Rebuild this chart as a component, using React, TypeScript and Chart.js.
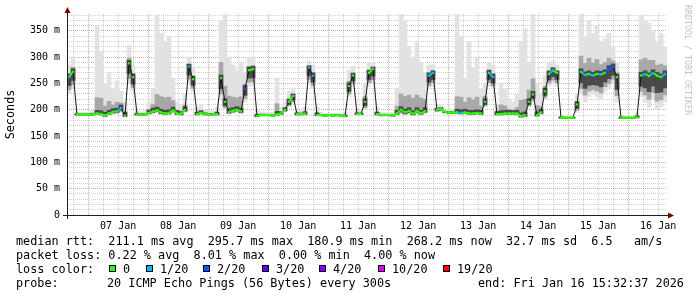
import React, { useEffect, useRef } from 'react';
import { Chart, registerables } from 'chart.js';

Chart.register(...registerables);

const MONO = '"DejaVu Sans Mono", monospace';

// hours from graph start (Fri Jan 6 15:32:37) to Jan 7 00:00
const HOURS_TO_FIRST_MIDNIGHT = 8.4564;
const TOTAL_HOURS = 240;
const STEP_HOURS = 1.6;
const Y_MAX = 382;

const dayLabels = ['07 Jan', '08 Jan', '09 Jan', '10 Jan', '11 Jan', '12 Jan', '13 Jan', '14 Jan', '15 Jan', '16 Jan'];
const yTickLabels = ['0', '50 m', '100 m', '150 m', '200 m', '250 m', '300 m', '350 m'];

// median rtt (ms), one value per 1.6 h
const medianRtt = [
  262, 272, 191, 191, 191, 191, 191, 193, 192, 189,
  193, 196, 197, 203, 189, 288, 262, 191, 191, 191,
  194, 197, 199, 195, 193, 194, 199, 193, 192, 200,
  282, 258, 192, 194, 192, 191, 191, 192, 260, 215,
  196, 198, 200, 197, 240, 275, 277, 188, 190, 190,
  190, 189, 191, 193, 200, 215, 226, 192, 192, 193,
  280, 265, 190, 190, 189, 190, 189, 190, 189, 188,
  245, 265, 192, 192, 215, 270, 278, 192, 190, 190,
  190, 189, 193, 200, 195, 198, 192, 198, 193, 198,
  265, 270, 200, 202, 196, 195, 195, 195, 194, 195,
  193, 193, 194, 193, 215, 270, 262, 192, 192, 193,
  193, 193, 193, 188, 190, 215, 229, 190, 195, 235,
  268, 275, 270, 185, 185, 185, 185, 210, 272, 266,
  268, 265, 268, 267, 270, 278, 281, 262, 185, 185,
  185, 185, 186, 265, 268, 264, 270, 265, 262, 268,
];

// top of the smoke (slowest ping)
const smokeHigh = [
  285, 300, 196, 195, 195, 196, 200, 360, 310, 250,
  270, 240, 255, 235, 215, 322, 285, 200, 196, 198,
  215, 240, 380, 345, 330, 340, 260, 215, 210, 230,
  300, 280, 205, 210, 200, 198, 198, 205, 370, 381,
  300, 285, 275, 290, 270, 300, 300, 200, 196, 196,
  195, 195, 260, 205, 215, 235, 241, 200, 198, 205,
  293, 285, 205, 195, 193, 193, 193, 193, 193, 195,
  275, 283, 200, 198, 250, 290, 290, 205, 195, 195,
  195, 195, 240, 381, 370, 320, 300, 330, 290, 270,
  285, 285, 210, 210, 200, 200, 200, 381, 340, 260,
  330, 280, 300, 240, 250, 290, 285, 210, 250, 240,
  220, 215, 230, 330, 355, 290, 381, 250, 230, 265,
  290, 293, 285, 190, 188, 188, 188, 230, 381, 340,
  370, 345, 360, 330, 335, 345, 320, 290, 190, 188,
  188, 188, 195, 380, 370, 365, 350, 330, 345, 320,
];

// bottom of the smoke (fastest ping)
const smokeLow = [
  230, 240, 189, 189, 189, 189, 189, 190, 189, 186,
  190, 192, 193, 195, 186, 250, 235, 189, 189, 189,
  191, 193, 195, 191, 190, 191, 194, 190, 189, 195,
  250, 235, 189, 191, 189, 189, 189, 189, 220, 200,
  192, 194, 196, 193, 215, 245, 245, 186, 188, 188,
  188, 187, 189, 190, 196, 205, 212, 189, 189, 190,
  250, 240, 188, 188, 187, 188, 187, 188, 187, 186,
  225, 245, 190, 190, 200, 245, 250, 189, 188, 188,
  188, 187, 190, 192, 190, 192, 189, 192, 190, 193,
  240, 245, 196, 197, 193, 192, 192, 192, 191, 192,
  190, 190, 191, 190, 205, 245, 240, 189, 189, 190,
  190, 190, 190, 185, 186, 205, 215, 187, 191, 220,
  245, 250, 245, 183, 183, 183, 183, 195, 230, 215,
  225, 230, 225, 220, 235, 240, 250, 215, 183, 183,
  183, 183, 184, 225, 215, 205, 220, 200, 205, 215,
];

// lost pings out of 20
const lostPings = [
  1, 0, 0, 0, 0, 0, 0, 0, 0, 0,
  0, 0, 0, 1, 0, 0, 0, 0, 0, 0,
  0, 0, 0, 0, 0, 0, 0, 0, 0, 0,
  1, 0, 0, 0, 0, 0, 0, 0, 0, 0,
  0, 0, 0, 0, 2, 0, 0, 0, 0, 0,
  0, 0, 0, 0, 0, 0, 0, 0, 0, 0,
  1, 1, 0, 0, 0, 0, 0, 0, 0, 0,
  0, 0, 0, 0, 0, 0, 0, 0, 0, 0,
  0, 0, 0, 0, 0, 0, 0, 0, 0, 0,
  1, 1, 0, 0, 0, 0, 0, 0, 1, 0,
  0, 0, 0, 0, 0, 0, 1, 0, 0, 0,
  0, 0, 0, 0, 0, 0, 0, 0, 0, 0,
  0, 1, 0, 0, 0, 0, 0, 0, 0, 1,
  0, 1, 0, 1, 0, 2, 2, 0, 0, 0,
  0, 0, 0, 0, 1, 0, 1, 0, 0, 1,
];

const lossThresholds = [0, 1, 2, 3, 4, 10, 19];
const lossLabels = ['0', '1/20', '2/20', '3/20', '4/20', '10/20', '19/20'];
const lossColors = ['#26ff00', '#00b8ff', '#0059ff', '#5e00ff', '#7e00ff', '#dd00ff', '#ff0000'];

const statLines = [
  'median rtt:  211.1 ms avg  295.7 ms max  180.9 ms min  268.2 ms now  32.7 ms sd  6.5   am/s',
  'packet loss: 0.22 % avg  8.01 % max  0.00 % min  4.00 % now',
];
const lossColorTitle = 'loss color:';
const probeTitle = 'probe:';
const probeText = '20 ICMP Echo Pings (56 Bytes) every 300s';
const endText = 'end: Fri Jan 16 15:32:37 2026';
const watermark = 'RRDTOOL / TOBI OETIKER';

function lossColor(n: number): string {
  let idx = 0;
  for (let k = 0; k < lossThresholds.length; k++) if (n >= lossThresholds[k]) idx = k;
  return lossColors[idx];
}

function sixHourIndex(v: number): number {
  return Math.round((v - HOURS_TO_FIRST_MIDNIGHT) / 6);
}

const overlayPlugin = {
  id: 'rrdOverlay',
  afterDatasetsDraw(chart: any) {
    const ctx = chart.ctx as CanvasRenderingContext2D;
    const { left, right, top, bottom } = chart.chartArea;
    ctx.save();
    ctx.strokeStyle = '#1e1e1e';
    ctx.lineWidth = 1;
    ctx.beginPath();
    ctx.moveTo(left - 4, bottom + 0.5);
    ctx.lineTo(right + 3, bottom + 0.5);
    ctx.moveTo(left + 0.5, bottom + 4);
    ctx.lineTo(left + 0.5, top - 3);
    ctx.stroke();
    ctx.fillStyle = '#7f0000';
    ctx.beginPath();
    ctx.moveTo(right + 1, bottom - 2.5);
    ctx.lineTo(right + 7, bottom + 0.5);
    ctx.lineTo(right + 1, bottom + 3.5);
    ctx.closePath();
    ctx.fill();
    ctx.beginPath();
    ctx.moveTo(left - 2.5, top - 1);
    ctx.lineTo(left + 0.5, top - 7);
    ctx.lineTo(left + 3.5, top - 1);
    ctx.closePath();
    ctx.fill();
    ctx.restore();
  },
  afterDraw(chart: any) {
    const ctx = chart.ctx as CanvasRenderingContext2D;
    ctx.save();
    ctx.fillStyle = '#000';
    ctx.font = '11.8px ' + MONO;
    ctx.textBaseline = 'alphabetic';
    ctx.textAlign = 'left';
    ctx.fillText(statLines[0], 16, 245);
    ctx.fillText(statLines[1], 16, 259);
    ctx.fillText(lossColorTitle, 16, 273);
    const boxX = [109, 146, 203, 262, 319, 378, 443];
    for (let k = 0; k < lossLabels.length; k++) {
      ctx.fillStyle = lossColors[k];
      ctx.fillRect(boxX[k], 265, 7, 7);
      ctx.strokeStyle = '#000';
      ctx.lineWidth = 1;
      ctx.strokeRect(boxX[k] + 0.5, 265.5, 6, 6);
      ctx.fillStyle = '#000';
      ctx.fillText(lossLabels[k], boxX[k] + 14, 273);
    }
    ctx.fillText(probeTitle, 16, 287);
    ctx.fillText(probeText, 107, 287);
    ctx.fillText(endText, 478, 287);

    ctx.fillStyle = '#c4c4c4';
    ctx.font = '8.3px ' + MONO;
    ctx.translate(685, 5);
    ctx.rotate(Math.PI / 2);
    ctx.fillText(watermark, 0, 0);
    ctx.restore();
  },
};

export default function App() {
  const ref = useRef<HTMLCanvasElement>(null);

  useEffect(() => {
    const canvas = ref.current;
    if (!canvas) return;
    const xs = medianRtt.map((_, i) => i * STEP_HOURS + STEP_HOURS / 2);
    const light = medianRtt.map((m, i) => ({ x: xs[i], y: [smokeLow[i], smokeHigh[i]] }));
    const mid = medianRtt.map((m, i) => ({
      x: xs[i],
      y: [m - (m - smokeLow[i]) * 0.75, m + Math.min((smokeHigh[i] - m) * 0.3, 30)],
    }));
    const dark = medianRtt.map((m, i) => ({
      x: xs[i],
      y: [m - (m - smokeLow[i]) * 0.5, m + Math.min((smokeHigh[i] - m) * 0.25, 6)],
    }));
    const line = medianRtt.map((m, i) => ({ x: xs[i], y: m }));

    const steep = (c: any) => Math.abs(c.p1.y - c.p0.y) > 6;

    const barCommon = {
      type: 'bar' as const,
      grouped: false,
      barPercentage: 1,
      categoryPercentage: 1,
      borderWidth: 0,
    };

    const chart = new Chart(canvas, {
      type: 'bar',
      data: {
        datasets: [
          {
            type: 'line',
            data: line,
            order: 0,
            borderColor: '#26ff00',
            borderWidth: 2,
            tension: 0,
            pointRadius: 1.5,
            pointStyle: 'rect',
            pointBorderWidth: 0,
            pointBackgroundColor: (c: any) => lossColor(lostPings[c.dataIndex] ?? 0),
            segment: {
              borderColor: (c: any) => (steep(c) ? '#151515' : lossColor(lostPings[c.p1DataIndex])),
              borderWidth: (c: any) => (steep(c) ? 1 : 2),
            },
          } as any,
          { ...barCommon, data: dark, order: 1, backgroundColor: '#4a4a4a' } as any,
          { ...barCommon, data: mid, order: 2, backgroundColor: '#a8a8a8' } as any,
          { ...barCommon, data: light, order: 3, backgroundColor: '#e2e2e2' } as any,
        ],
      },
      options: {
        responsive: false,
        animation: false,
        devicePixelRatio: 1,
        events: [],
        layout: { padding: { left: 0, right: 30, top: 14, bottom: 0 } },
        plugins: { legend: { display: false }, tooltip: { enabled: false } },
        scales: {
          x: {
            type: 'linear',
            min: 0,
            max: TOTAL_HOURS,
            offset: false,
            afterBuildTicks: (scale: any) => {
              const t = [];
              for (let v = HOURS_TO_FIRST_MIDNIGHT - 6; v <= TOTAL_HOURS; v += 6) t.push({ value: v });
              scale.ticks = t;
            },
            afterFit: (scale: any) => {
              scale.height = 82;
            },
            grid: {
              offset: false,
              drawTicks: false,
              lineWidth: 1,
              color: (c: any) =>
                ((sixHourIndex(c.tick?.value ?? 0) % 4) + 4) % 4 === 0
                  ? 'rgba(150,30,30,0.38)'
                  : 'rgba(140,140,140,0.4)',
            },
            border: { display: false, dash: [1, 1] },
            ticks: {
              autoSkip: false,
              maxRotation: 0,
              minRotation: 0,
              padding: 5,
              color: '#000',
              font: { family: MONO, size: 10 },
              callback: (v: any) => {
                const k = sixHourIndex(Number(v));
                if (k >= 2 && k % 4 === 2) return dayLabels[(k - 2) / 4] ?? '';
                return '';
              },
            },
          },
          y: {
            min: 0,
            max: Y_MAX,
            afterBuildTicks: (scale: any) => {
              const t = [];
              for (let v = 0; v <= 380; v += 10) t.push({ value: v });
              scale.ticks = t;
            },
            afterFit: (scale: any) => {
              scale.width = 67;
            },
            grid: {
              drawTicks: false,
              lineWidth: 1,
              color: (c: any) =>
                Math.round(c.tick?.value ?? 0) % 50 === 0 ? 'rgba(150,30,30,0.38)' : 'rgba(140,140,140,0.4)',
            },
            border: { display: false, dash: [1, 1] },
            ticks: {
              autoSkip: false,
              padding: 7,
              color: '#000',
              font: { family: MONO, size: 10 },
              callback: (v: any) => {
                const n = Math.round(Number(v));
                return n % 50 === 0 ? yTickLabels[n / 50] ?? '' : '';
              },
            },
            title: {
              display: true,
              text: 'Seconds',
              color: '#000',
              font: { family: MONO, size: 11.8 },
              padding: { top: 4, bottom: 4 },
            },
          },
        },
      } as any,
      plugins: [overlayPlugin],
    });
    return () => chart.destroy();
  }, []);

  return (
    <div style={{ position: 'absolute', left: 0, top: 0, width: 697, height: 297, background: '#fff' }}>
      <canvas ref={ref} width={697} height={297} style={{ display: 'block' }} />
    </div>
  );
}
